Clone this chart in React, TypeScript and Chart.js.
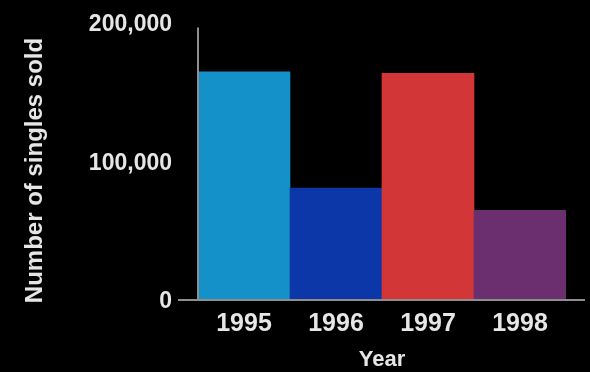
import React, { useEffect, useRef } from "react";
import { Chart, registerables } from "chart.js";

Chart.register(...registerables);

// Singles sold per year
const years = ["1995", "1996", "1997", "1998"];
const singlesSold = [164000, 80000, 163000, 64000];
const barColors = ["#1491c8", "#0b37a8", "#d33636", "#6b2f6f"];
const yTickValues = [0, 100000, 200000];
const yMax = 200000;
// the vertical axis rule stops a little short of the top tick
const yAxisLineTop = 196000;

const FONT = "'Liberation Sans', Arial, sans-serif";
const TEXT = "#e6e6e6";
const AXIS = "#8e8e8e";

// Draws the two axis rules; the baseline runs past both ends of the plot
const axisLines = {
  id: "axisLines",
  afterDatasetsDraw(chart: any) {
    const { ctx, chartArea, scales } = chart;
    const y = scales.y;
    const base = y.getPixelForValue(0) + 1;
    ctx.save();
    ctx.strokeStyle = AXIS;
    ctx.lineWidth = 2;
    ctx.beginPath();
    ctx.moveTo(chartArea.left, y.getPixelForValue(yAxisLineTop));
    ctx.lineTo(chartArea.left, base);
    ctx.moveTo(chartArea.left - 20, base);
    ctx.lineTo(chartArea.right + 19, base);
    ctx.stroke();
    ctx.restore();
  },
};

export default function App() {
  const canvasRef = useRef<HTMLCanvasElement | null>(null);

  useEffect(() => {
    const canvas = canvasRef.current;
    if (!canvas) return;
    const chart = new Chart(canvas, {
      type: "bar",
      data: {
        labels: years,
        datasets: [
          {
            data: singlesSold,
            backgroundColor: barColors,
            borderWidth: 0,
            categoryPercentage: 1,
            barPercentage: 1,
          },
        ],
      },
      options: {
        animation: false,
        responsive: false,
        maintainAspectRatio: false,
        layout: { padding: { top: 22, right: 24, left: 0, bottom: 0 } },
        plugins: {
          legend: { display: false },
          tooltip: { enabled: false },
        },
        scales: {
          x: {
            grid: { display: false, drawTicks: false },
            border: { display: false },
            ticks: {
              color: TEXT,
              font: { family: FONT, size: 25, weight: "bold" },
              padding: 10,
              maxRotation: 0,
            },
            title: {
              display: true,
              text: "Year",
              color: TEXT,
              font: { family: FONT, size: 22, weight: "bold" },
              padding: { top: 0, bottom: -1 },
            },
            afterFit(scale: any) {
              scale.height = 73;
              scale.paddingLeft = 0;
              scale.paddingRight = 0;
            },
          },
          y: {
            min: 0,
            max: yMax,
            grid: { display: false, drawTicks: false },
            border: { display: false },
            afterBuildTicks(scale: any) {
              scale.ticks = yTickValues.map((v) => ({ value: v }));
            },
            ticks: {
              color: TEXT,
              font: { family: FONT, size: 23, weight: "bold" },
              padding: 26,
              labelOffset: 3,
              callback: (v: any) => Number(v).toLocaleString("en-US"),
            },
            title: {
              display: true,
              text: "Number of singles sold   ",
              color: TEXT,
              font: { family: FONT, size: 24, weight: "bold" },
              padding: { top: 21, bottom: 0 },
            },
            afterFit(scale: any) {
              scale.width = 198;
              scale.paddingTop = 0;
              scale.paddingBottom = 0;
            },
          },
        },
      },
      plugins: [axisLines],
    });
    return () => chart.destroy();
  }, []);

  return (
    <div
      style={{
        position: "fixed",
        left: 0,
        top: 0,
        width: 590,
        height: 372,
        background: "#000",
      }}
    >
      <canvas ref={canvasRef} width={590} height={372} style={{ display: "block" }} />
    </div>
  );
}
